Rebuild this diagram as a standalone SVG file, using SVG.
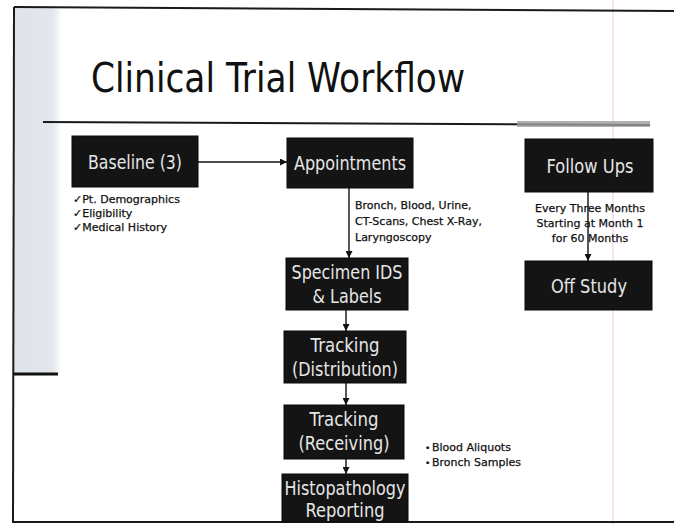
<svg xmlns="http://www.w3.org/2000/svg" width="674" height="525" viewBox="0 0 674 525">
<style>
.box{fill:#141414;stroke:#0a0a0a;stroke-width:1}
.bt{font-family:"DejaVu Sans",Verdana,sans-serif;font-size:20px;fill:#e6e6e6;text-anchor:middle}
.sm{font-family:"DejaVu Sans",Verdana,sans-serif;font-size:11px;fill:#111;stroke:#111;stroke-width:0.25}
.con{stroke:#111;stroke-width:1.4;fill:none}
.frame{stroke:#1a1a1a;stroke-width:2;fill:none}
</style>
<defs>
<marker id="ah" viewBox="0 0 10 10" refX="10" refY="5" markerWidth="7" markerHeight="7" markerUnits="userSpaceOnUse" orient="auto">
<path d="M0,0 L10,5 L0,10 z" fill="#111"/>
</marker>
<linearGradient id="strip" x1="0" y1="0" x2="1" y2="0">
<stop offset="0" stop-color="#dfe4ea"/>
<stop offset="0.8" stop-color="#e3e7ec"/>
<stop offset="1" stop-color="#ffffff"/>
</linearGradient>
</defs>
<rect width="674" height="525" fill="#ffffff"/>
<g id="frame">
<rect x="14" y="8" width="48" height="365" fill="url(#strip)"/>
<line x1="613" y1="0" x2="613" y2="525" stroke="#f2c6e4" stroke-width="1"/>
<line class="frame" x1="14" y1="7" x2="674" y2="11"/>
<line class="frame" x1="14" y1="7" x2="13" y2="523"/>
<line class="frame" x1="12" y1="522" x2="674" y2="522"/>
<line x1="13" y1="374" x2="58" y2="374" stroke="#111" stroke-width="3"/>
<line x1="43" y1="122" x2="650" y2="125" stroke="#1a1a1a" stroke-width="2"/>
<rect x="517" y="121" width="133" height="6" fill="#9c9c9c" opacity="0.8"/>
</g>
<text x="91" y="92" font-family="DejaVu Sans, Verdana, sans-serif" font-size="40" fill="#111" textLength="374" lengthAdjust="spacingAndGlyphs">Clinical Trial Workflow</text>
<g id="connectors">
<line class="con" x1="198" y1="162" x2="287" y2="162" marker-end="url(#ah)"/>
<line class="con" x1="349" y1="188" x2="349" y2="258" marker-end="url(#ah)"/>
<line class="con" x1="346" y1="310" x2="346" y2="331" marker-end="url(#ah)"/>
<line class="con" x1="346" y1="383" x2="346" y2="405" marker-end="url(#ah)"/>
<line class="con" x1="346" y1="459" x2="346" y2="474" marker-end="url(#ah)"/>
<line class="con" x1="588" y1="192" x2="588" y2="261" marker-end="url(#ah)"/>
<text class="sm" font-size="12" x="355" y="209">Bronch, Blood, Urine,</text>
<text class="sm" font-size="12" x="355" y="225">CT-Scans, Chest X-Ray,</text>
<text class="sm" font-size="12" x="355" y="241">Laryngoscopy</text>
<text class="sm" x="590" y="212" text-anchor="middle">Every Three Months</text>
<text class="sm" x="590" y="227" text-anchor="middle">Starting at Month 1</text>
<text class="sm" x="590" y="242" text-anchor="middle">for 60 Months</text>
</g>
<g id="baseline">
<rect class="box" x="72" y="136" width="126" height="51"/>
<text class="bt" x="135" y="168.5" textLength="94" lengthAdjust="spacingAndGlyphs">Baseline (3)</text>
<text class="sm" x="73" y="203">✓Pt. Demographics</text>
<text class="sm" x="73" y="217">✓Eligibility</text>
<text class="sm" x="73" y="231">✓Medical History</text>
</g>
<g id="appointments">
<rect class="box" x="287" y="138" width="126" height="50"/>
<text class="bt" x="350" y="170" textLength="112" lengthAdjust="spacingAndGlyphs">Appointments</text>
</g>
<g id="followups">
<rect class="box" x="525" y="139" width="128" height="53"/>
<text class="bt" x="590" y="172.5" textLength="87" lengthAdjust="spacingAndGlyphs">Follow Ups</text>
</g>
<g id="offstudy">
<rect class="box" x="525" y="261" width="127" height="49"/>
<text class="bt" x="589" y="292.5" textLength="76" lengthAdjust="spacingAndGlyphs">Off Study</text>
</g>
<g id="specimen">
<rect class="box" x="286" y="258" width="122" height="52"/>
<text class="bt" x="347" y="279" textLength="111" lengthAdjust="spacingAndGlyphs">Specimen IDS</text>
<text class="bt" x="347" y="303" textLength="69" lengthAdjust="spacingAndGlyphs">&amp; Labels</text>
</g>
<g id="tracking-distribution">
<rect class="box" x="284" y="331" width="122" height="52"/>
<text class="bt" x="345" y="352" textLength="69" lengthAdjust="spacingAndGlyphs">Tracking</text>
<text class="bt" x="345" y="376" textLength="106" lengthAdjust="spacingAndGlyphs">(Distribution)</text>
</g>
<g id="tracking-receiving">
<rect class="box" x="284" y="405" width="120" height="54"/>
<text class="bt" x="344" y="426" textLength="69" lengthAdjust="spacingAndGlyphs">Tracking</text>
<text class="bt" x="344" y="450" textLength="91" lengthAdjust="spacingAndGlyphs">(Receiving)</text>
<text class="sm" font-size="12" x="425" y="451"><tspan font-size="9">•</tspan><tspan x="432">Blood Aliquots</tspan></text>
<text class="sm" font-size="12" x="425" y="466"><tspan font-size="9">•</tspan><tspan x="432">Bronch Samples</tspan></text>
</g>
<g id="histopathology">
<rect class="box" x="282" y="474" width="126" height="48"/>
<text class="bt" x="345" y="495" textLength="121" lengthAdjust="spacingAndGlyphs">Histopathology</text>
<text class="bt" x="345" y="517" textLength="79" lengthAdjust="spacingAndGlyphs">Reporting</text>
</g>
</svg>
